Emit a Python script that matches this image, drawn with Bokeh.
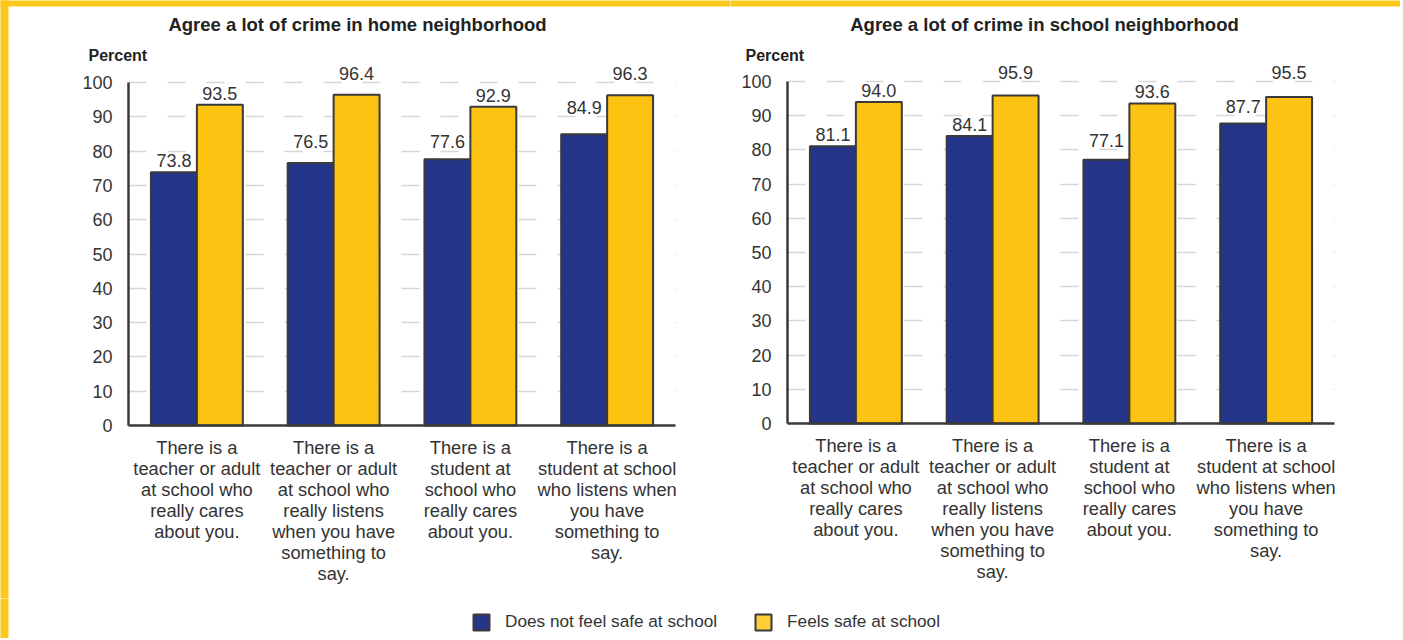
from bokeh.plotting import figure
from bokeh.models import (ColumnDataSource, Range1d, Label, Legend, LegendItem,
                          FixedTicker, LinearAxis, Grid, BoxAnnotation)
from bokeh.transform import dodge
from bokeh.layouts import column, row
from bokeh.embed import file_html
from bokeh.resources import INLINE
from bokeh.core.properties import value

# ---------------- data ----------------
categories = [
    "There is a\nteacher or adult\nat school who\nreally cares\nabout you.",
    "There is a\nteacher or adult\nat school who\nreally listens\nwhen you have\nsomething to\nsay.",
    "There is a\nstudent at\nschool who\nreally cares\nabout you.",
    "There is a\nstudent at school\nwho listens when\nyou have\nsomething to\nsay.",
]
series_names = ["Does not feel safe at school", "Feels safe at school"]
home_not_safe = [73.8, 76.5, 77.6, 84.9]
home_safe = [93.5, 96.4, 92.9, 96.3]
school_not_safe = [81.1, 84.1, 77.1, 87.7]
school_safe = [94.0, 95.9, 93.6, 95.5]
panel_titles = ["Agree a lot of crime in home neighborhood",
                "Agree a lot of crime in school neighborhood"]
y_axis_title = "Percent"
y_ticks = list(range(0, 101, 10))

# ---------------- style ----------------
FONT = "Liberation Sans"
BLUE = "#25358A"
YELLOW = "#FDC313"
LEG_YELLOW = "#FFCC3A"
FRAME_YELLOW = "#FEC71C"
OUTLINE = "#3a3a3a"
TEXT = "#333333"
GRID = "#d6d6d6"
BAR_W = 0.336
OFF = BAR_W / 2
N = len(categories)
idx = [i + 0.5 for i in range(N)]          # category centres on the axis
H, H3 = 598, 40
CAT_PX = 547 / N


def label_positions(vals, ppu, gap=5, h=13, clear=3, desc=0):
    """Value-label bottoms: just above the bar, lifted above a gridline they would cross."""
    out = []
    for v in vals:
        bottom = v * ppu + gap
        for g in y_ticks[1:]:
            G = g * ppu
            if bottom - 1 < G < bottom + h + 1:
                bottom = G + clear
        out.append((bottom - desc) / ppu)
    return out


def make_panel(title, a_vals, b_vals, width, axis_px, zero_px, ppu, title_cx,
               percent_lx, left_strip):
    xd = lambda px: (px - axis_px) / CAT_PX
    yd = lambda py: (zero_px - py) / ppu
    p = figure(width=width, height=H, x_range=Range1d(xd(0), xd(width)),
               y_range=Range1d(yd(H), yd(0)), output_backend="svg",
               toolbar_location=None, x_axis_location=None, y_axis_location=None,
               min_border=0, outline_line_color=None,
               background_fill_color="white", border_fill_color="white")
    p.center = []   # drop default grids

    grid = Grid(dimension=1, ticker=FixedTicker(ticks=y_ticks[1:]),
                grid_line_color=GRID, grid_line_width=1.5, grid_line_dash="18 21")
    if "cross_bounds" in Grid.properties():
        grid.cross_bounds = (0, N)
    p.add_layout(grid)

    yaxis = LinearAxis(fixed_location=0, bounds=(0, 100), ticker=FixedTicker(ticks=y_ticks))
    xaxis = LinearAxis(fixed_location=0, bounds=(0, N), ticker=FixedTicker(ticks=idx),
                       major_label_overrides={k: c for k, c in zip(idx, categories)})
    for ax in (xaxis, yaxis):
        ax.axis_line_color = OUTLINE
        ax.axis_line_width = 2.5
        ax.major_tick_line_color = None
        ax.minor_tick_line_color = None
        ax.major_label_text_font = FONT
        ax.major_label_text_color = TEXT
    yaxis.major_label_text_font_size = "18px"
    yaxis.major_label_standoff = 10
    xaxis.major_label_text_font_size = "18.3px"
    xaxis.major_label_standoff = 5
    xaxis.major_label_text_line_height = 1.0
    xaxis.major_label_orientation = "horizontal"

    src = ColumnDataSource(dict(
        idx=idx, a=a_vals, b=b_vals,
        a_txt=[f"{v:.1f}" for v in a_vals], b_txt=[f"{v:.1f}" for v in b_vals],
        a_lab=label_positions(a_vals, ppu), b_lab=label_positions(b_vals, ppu),
    ))
    xa = dodge("idx", -OFF)
    xb = dodge("idx", OFF)
    p.vbar(x=xa, top="a", width=BAR_W, source=src, fill_color=BLUE,
           line_color=OUTLINE, line_width=2)
    p.vbar(x=xb, top="b", width=BAR_W, source=src, fill_color=YELLOW,
           line_color=OUTLINE, line_width=2)
    for x, y, t in ((xa, "a_lab", "a_txt"), (xb, "b_lab", "b_txt")):
        p.text(x=x, y=y, text=t, source=src, text_align="center",
               text_baseline="bottom", text_font=value(FONT),
               text_font_size="18px", text_color=TEXT)
    p.add_layout(yaxis, "left")
    p.add_layout(xaxis, "below")

    p.add_layout(Label(x=xd(title_cx), y=yd(24), text=title, text_align="center",
                       text_baseline="middle", text_font=FONT, text_font_size="18.5px",
                       text_font_style="bold", text_color="#222222"))
    p.add_layout(Label(x=xd(percent_lx), y=yd(55), text=y_axis_title, text_align="left",
                       text_baseline="middle", text_font=FONT, text_font_size="16px",
                       text_font_style="bold", text_color="#222222"))

    # decorative yellow frame of the original page
    p.add_layout(BoxAnnotation(left=xd(-3), right=xd(width + 3), bottom=yd(6), top=yd(-3),
                               fill_color=FRAME_YELLOW, fill_alpha=1, line_color=None))
    if left_strip:
        p.add_layout(BoxAnnotation(left=xd(-3), right=xd(8), bottom=yd(H + 3), top=yd(-3),
                                   fill_color=FRAME_YELLOW, fill_alpha=1, line_color=None))
    return p


p1 = make_panel(panel_titles[0], home_not_safe, home_safe, 730, 128, 425, 3.43,
                357, 88, True)
p2 = make_panel(panel_titles[1], school_not_safe, school_safe, 670, 787 - 730, 423, 3.42,
                1044 - 730, 745 - 730, False)

# ---------------- legend strip ----------------
leg_src = ColumnDataSource(dict(idx=idx, a=home_not_safe, b=home_safe))
p3 = figure(width=1400, height=H3, x_range=Range1d(0, 1400), y_range=Range1d(0, H3),
            output_backend="svg", toolbar_location=None, x_axis_location=None,
            y_axis_location=None, min_border=0, outline_line_color=None)
p3.center = []
ra = p3.vbar(x="idx", top="a", width=0.3, source=leg_src, fill_color=BLUE,
             line_color=OUTLINE, line_width=2, visible=False)
rb = p3.vbar(x="idx", top="b", width=0.3, source=leg_src, fill_color=LEG_YELLOW,
             line_color=OUTLINE, line_width=2, visible=False)
legend = Legend(items=[LegendItem(label=series_names[0], renderers=[ra]),
                       LegendItem(label=series_names[1], renderers=[rb])],
                orientation="horizontal", location=(471, 6), padding=0, margin=0,
                spacing=36, label_standoff=14, glyph_width=20, glyph_height=20,
                label_text_font=FONT, label_text_font_size="17.2px",
                label_text_color=TEXT, border_line_color=None,
                background_fill_alpha=0, label_height=20)
p3.add_layout(legend)
p3.add_layout(BoxAnnotation(left=-3, right=8, bottom=-3, top=H3 + 3,
                            fill_color=FRAME_YELLOW, fill_alpha=1, line_color=None))

layout = column(row(p1, p2), p3)
open("out.html", "w").write(file_html(layout, INLINE))
